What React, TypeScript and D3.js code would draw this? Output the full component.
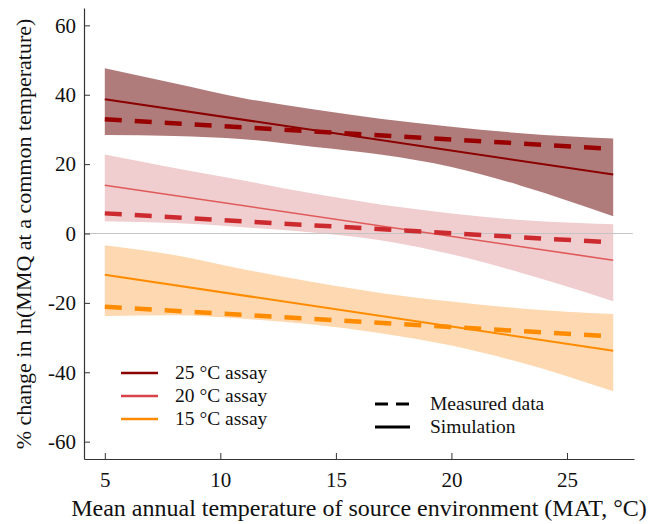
import { useEffect, useRef } from 'react';
import * as d3 from 'd3';

// MAT grid used for the confidence bands
const bandMat = [5, 8, 11, 14, 17, 20, 23, 27];
const lineMat = [5, 27];

// 25 °C assay
const upper25 = [47.6, 43.3, 39.0, 35.8, 33.0, 30.8, 28.9, 27.4];
const lower25 = [28.4, 28.1, 27.2, 25.0, 22.7, 19.2, 13.8, 5.0];
const sim25 = [38.7, 17.0];
const meas25 = [32.9, 24.4];

// 20 °C assay
const upper20 = [22.8, 18.9, 15.3, 11.5, 8.3, 5.8, 3.9, 2.7];
const lower20 = [3.5, 3.0, 1.8, 0.3, -2.0, -6.0, -11.3, -19.5];
const sim20 = [13.9, -7.7];
const meas20 = [5.8, -2.6];

// 15 °C assay
const upper15 = [-3.4, -6.2, -10.3, -14.0, -17.2, -19.6, -21.6, -23.2];
const lower15 = [-23.8, -23.6, -24.6, -26.2, -28.8, -32.3, -37.2, -45.5];
const sim15 = [-11.9, -33.8];
const meas15 = [-21.1, -29.7];

const xTicks = [5, 10, 15, 20, 25];
const yTicks = [-60, -40, -20, 0, 20, 40, 60];

const assays = [
  { label: '25 °C assay', upper: upper25, lower: lower25, sim: sim25, meas: meas25,
    band: '#b07c7b', simColor: '#8b0000', measColor: '#990000', legend: '#8b0000' },
  { label: '20 °C assay', upper: upper20, lower: lower20, sim: sim20, meas: meas20,
    band: '#f0cdce', simColor: '#e05a5a', measColor: '#cc2a2e', legend: '#d9434a' },
  { label: '15 °C assay', upper: upper15, lower: lower15, sim: sim15, meas: meas15,
    band: '#fed8b0', simColor: '#ff8c00', measColor: '#ff8c00', legend: '#ff8c00' },
];

const FONT = '"Liberation Serif", "Times New Roman", serif';

export default function App() {
  const ref = useRef<SVGSVGElement>(null);

  useEffect(() => {
    if (!ref.current) return;
    const svg = d3.select(ref.current);
    svg.selectAll('*').remove();

    const x = d3.scaleLinear().domain([4.1, 27.9]).range([84, 634]);
    const y = d3.scaleLinear().domain([-65, 65]).range([459, 8]);

    // Bands
    assays.forEach(a => {
      const area = d3.area<number>()
        .x((_, i) => x(bandMat[i]))
        .y0((_, i) => y(a.lower[i]))
        .y1(d => y(d))
        .curve(d3.curveMonotoneX);
      svg.append('path')
        .attr('d', area(a.upper))
        .attr('fill', a.band);
    });

    // Zero line
    svg.append('line')
      .attr('x1', x(4.1)).attr('x2', x(27.85))
      .attr('y1', y(0)).attr('y2', y(0))
      .attr('stroke', '#c4c4c4')
      .attr('stroke-width', 1.2);

    // Lines
    const line = d3.line<number>()
      .x((_, i) => x(lineMat[i]))
      .y(d => y(d));
    assays.forEach((a, k) => {
      svg.append('path')
        .attr('d', line(a.sim))
        .attr('fill', 'none')
        .attr('stroke', a.simColor)
        .attr('stroke-width', k === 1 ? 1.6 : 2);
      svg.append('path')
        .attr('d', line(a.meas))
        .attr('fill', 'none')
        .attr('stroke', a.measColor)
        .attr('stroke-width', 4.5)
        .attr('stroke-dasharray', '17,13');
    });

    // Axes (plain hyphen minus like the original)
    const fmt = (d: d3.NumberValue) => String(d);
    const xAxis = svg.append('g')
      .attr('transform', `translate(0,${y(-65)})`)
      .call(d3.axisBottom(x).tickValues(xTicks).tickFormat(fmt)
        .tickSizeInner(-6).tickSizeOuter(0).tickPadding(13));
    const yAxis = svg.append('g')
      .attr('transform', `translate(${x(4.1)},0)`)
      .call(d3.axisLeft(y).tickValues(yTicks).tickFormat(fmt)
        .tickSizeInner(-6).tickSizeOuter(0).tickPadding(8));
    [xAxis, yAxis].forEach(g => {
      g.select('.domain').attr('stroke', '#333').attr('stroke-width', 1.2);
      g.selectAll('.tick line').attr('stroke', '#333');
      g.selectAll('text')
        .attr('font-family', FONT)
        .attr('font-size', 21)
        .attr('fill', '#111');
    });

    // Axis titles
    svg.append('text')
      .attr('x', 359).attr('y', 516)
      .attr('text-anchor', 'middle')
      .attr('font-family', FONT).attr('font-size', 24).attr('fill', '#111')
      .text('Mean annual temperature of source environment (MAT, °C)');
    svg.append('text')
      .attr('transform', 'translate(31,234) rotate(-90)')
      .attr('text-anchor', 'middle')
      .attr('font-family', FONT).attr('font-size', 22).attr('fill', '#111')
      .text('% change in ln(MMQ at a common temperature)');

    // Assay legend
    assays.forEach((a, i) => {
      const ly = 373 + i * 23;
      svg.append('line')
        .attr('x1', 121).attr('x2', 158).attr('y1', ly).attr('y2', ly)
        .attr('stroke', a.legend).attr('stroke-width', 2.5);
      svg.append('text')
        .attr('x', 175).attr('y', ly + 6)
        .attr('font-family', FONT).attr('font-size', 19.5).attr('fill', '#111')
        .text(a.label);
    });

    // Line style legend
    const styles = [
      { label: 'Measured data', dash: '13,8', y: 404 },
      { label: 'Simulation', dash: null, y: 427 },
    ];
    styles.forEach(s => {
      const l = svg.append('line')
        .attr('x1', 375).attr('x2', 410).attr('y1', s.y).attr('y2', s.y)
        .attr('stroke', '#000').attr('stroke-width', 3);
      if (s.dash) l.attr('stroke-dasharray', s.dash);
      svg.append('text')
        .attr('x', 430).attr('y', s.y + 6)
        .attr('font-family', FONT).attr('font-size', 19.5).attr('fill', '#111')
        .text(s.label);
    });
  }, []);

  return (
    <svg
      ref={ref}
      width={651}
      height={524}
      style={{ position: 'absolute', left: 0, top: 0, background: '#fff' }}
    />
  );
}
